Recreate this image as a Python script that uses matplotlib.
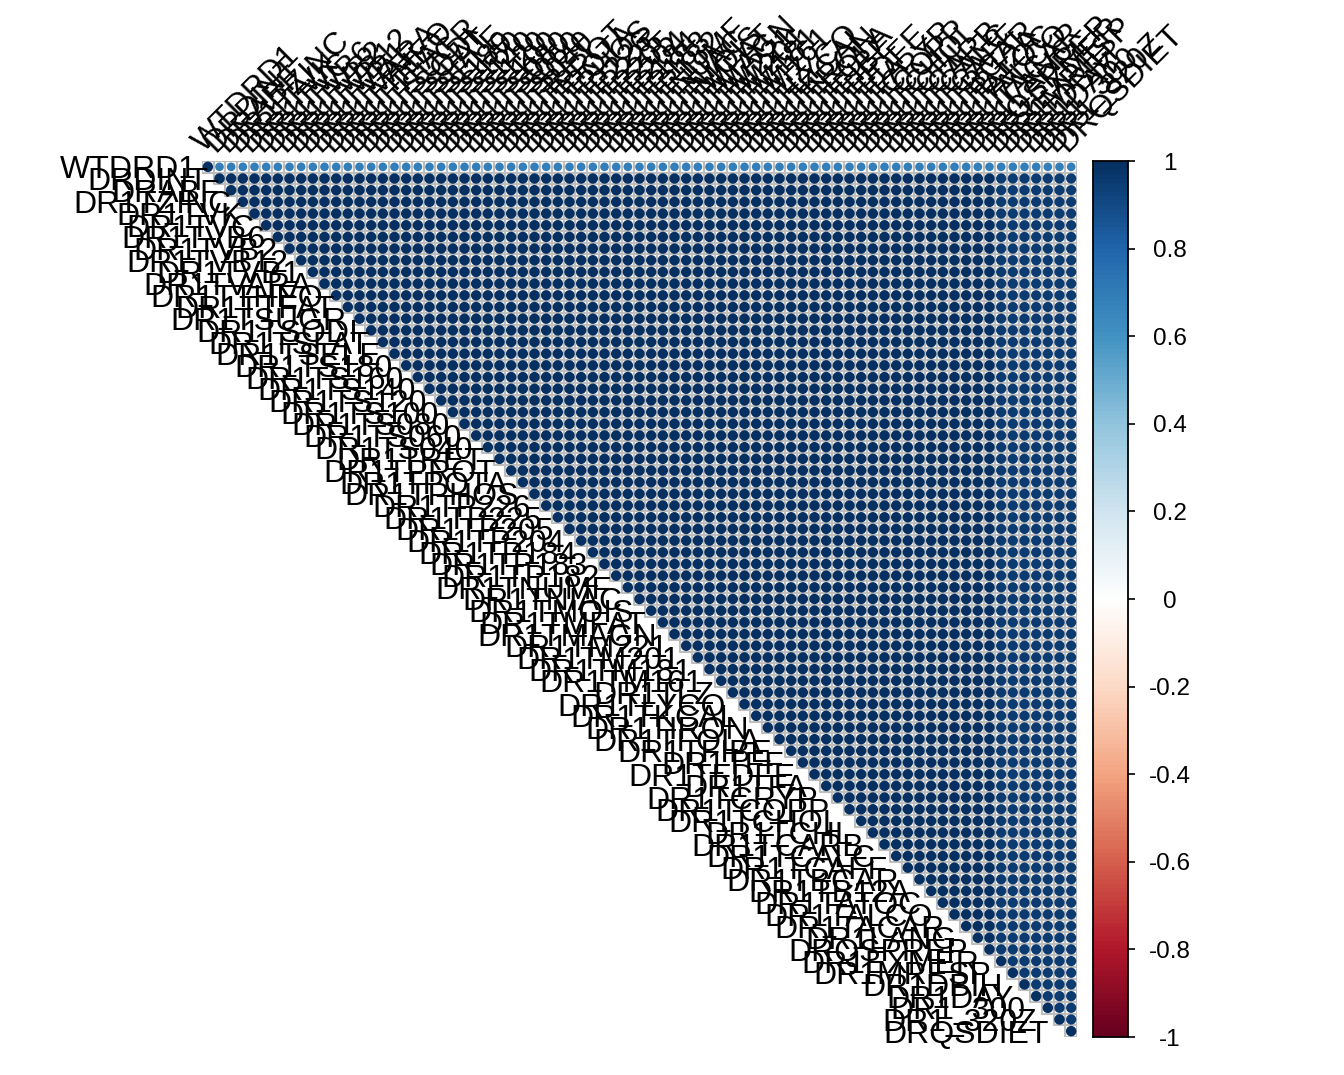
import numpy as np
import matplotlib.pyplot as plt
from matplotlib.colors import LinearSegmentedColormap, Normalize
from matplotlib.patches import Rectangle, Circle
from matplotlib.collections import PatchCollection

plt.rcParams['font.family'] = ['Liberation Sans', 'DejaVu Sans']

# variable names, in the order of the matrix (top row first)
variables = [
    "WTDRD1", "DRDINT", "DRABF", "DR1TZINC", "DR1TVK", "DR1TVC", "DR1TVB6",
    "DR1TVB2", "DR1TVB12", "DR1TVB1", "DR1TVARA", "DR1TTHEO", "DR1TTFAT",
    "DR1TSUGR", "DR1TSODI", "DR1TSFAT", "DR1TSELE", "DR1TS180", "DR1TS160",
    "DR1TS140", "DR1TS120", "DR1TS100", "DR1TS080", "DR1TS060", "DR1TS040",
    "DR1TRET", "DR1TPROT", "DR1TPOTA", "DR1TPHOS", "DR1TP226", "DR1TP225",
    "DR1TP205", "DR1TP204", "DR1TP184", "DR1TP183", "DR1TP182", "DR1TNUMF",
    "DR1TNIAC", "DR1TMOIS", "DR1TMFAT", "DR1TMAGN", "DR1TM221", "DR1TM201",
    "DR1TM181", "DR1TM161", "DR1TLZ", "DR1TLYCO", "DR1TKCAL", "DR1TIRON",
    "DR1TFOLA", "DR1TFIBE", "DR1TFF", "DR1TFDFE", "DR1TFA", "DR1TCRYP",
    "DR1TCOPP", "DR1TCHOL", "DR1TCHL", "DR1TCARB", "DR1TCALC", "DR1TCAFF",
    "DR1TBCAR", "DR1TB12A", "DR1TATOC", "DR1TALCO", "DR1TACAR", "DR1LANG",
    "DRQSPREP", "DR1EXMER", "DR1MRESP", "DR1DBIH", "DR1DAY", "DR1_300",
    "DR1_320Z", "DRQSDIET",
]

# correlations
wtdrd1_r = 0.68   # WTDRD1 against every other variable (light blue row)
block_r = 0.99    # almost all other pairs
tail_r = 0.95     # pairs with the last seven columns, a bit lighter
n_tail = 7

cbar_ticks = [1, 0.8, 0.6, 0.4, 0.2, 0, -0.2, -0.4, -0.6, -0.8, -1]
cbar_labels = ["1", "0.8", "0.6", "0.4", "0.2", "0", "-0.2", "-0.4", "-0.6", "-0.8", "-1"]

n = len(variables)
corr = np.full((n, n), block_r)
corr[:, n - n_tail:] = tail_r
corr[n - n_tail:, :] = tail_r
corr[0, :] = wtdrd1_r
corr[:, 0] = wtdrd1_r
np.fill_diagonal(corr, 1.0)

rdbu = ["#67001F", "#B2182B", "#D6604D", "#F4A582", "#FDDBC7", "#FFFFFF",
        "#D1E5F0", "#92C5DE", "#4393C3", "#2166AC", "#053061"]
cmap = LinearSegmentedColormap.from_list("corrRdBu", rdbu, N=200)
norm = Normalize(-1, 1)

W, H = 1344, 1075
fig = plt.figure(figsize=(W / 100, H / 100), dpi=100)

# matrix
ax = fig.add_axes([202 / W, 38 / H, 875 / W, 876 / H])
ax.set_xlim(-0.5, n - 0.5)
ax.set_ylim(n - 0.5, -0.5)
ax.axis('off')

rects, circles, cols = [], [], []
for i in range(n):
    for j in range(i, n):
        rects.append(Rectangle((j - 0.5, i - 0.5), 1, 1))
        circles.append(Circle((j, i), 0.45 * np.sqrt(abs(corr[i, j]))))
        cols.append(cmap(norm(corr[i, j])))
ax.add_collection(PatchCollection(rects, facecolor='white', edgecolor='#BEBEBE', linewidth=1.5))
ax.add_collection(PatchCollection(circles, facecolor=cols, edgecolor='none'))

for i, name in enumerate(variables):
    # row labels along the diagonal
    ax.text(i - 0.5 - (0.45 + i / 74), i, name, ha='right', va='center_baseline',
            fontsize=23, color='black', clip_on=False)
    # column labels on top, 45 degrees
    ax.text(i - 0.35, -0.5 - 0.7, name, rotation=45, rotation_mode='anchor',
            ha='left', va='baseline', fontsize=23, color='black', clip_on=False)

# colour legend
cax = fig.add_axes([1093 / W, 38 / H, 35 / W, 876 / H])
grad = np.linspace(1, -1, 200)[:, None]
cax.imshow(grad, cmap=cmap, norm=norm, aspect='auto', extent=[0, 1, -1, 1])
cax.set_xlim(0, 1)
cax.set_ylim(-1, 1)
cax.set_xticks([])
cax.yaxis.tick_right()
cax.set_yticks(cbar_ticks)
cax.set_yticklabels([])
cax.tick_params(axis='y', length=5, width=1.2, color='black')
for sp in cax.spines.values():
    sp.set_linewidth(1.3)
    sp.set_color('black')
for v, lab in zip(cbar_ticks, cbar_labels):
    cax.text(2.2, v, lab, transform=cax.get_yaxis_transform(), ha='center',
             va='center_baseline', fontsize=17.5, clip_on=False)

plt.savefig("out.png", dpi=100)
plt.close(fig)
